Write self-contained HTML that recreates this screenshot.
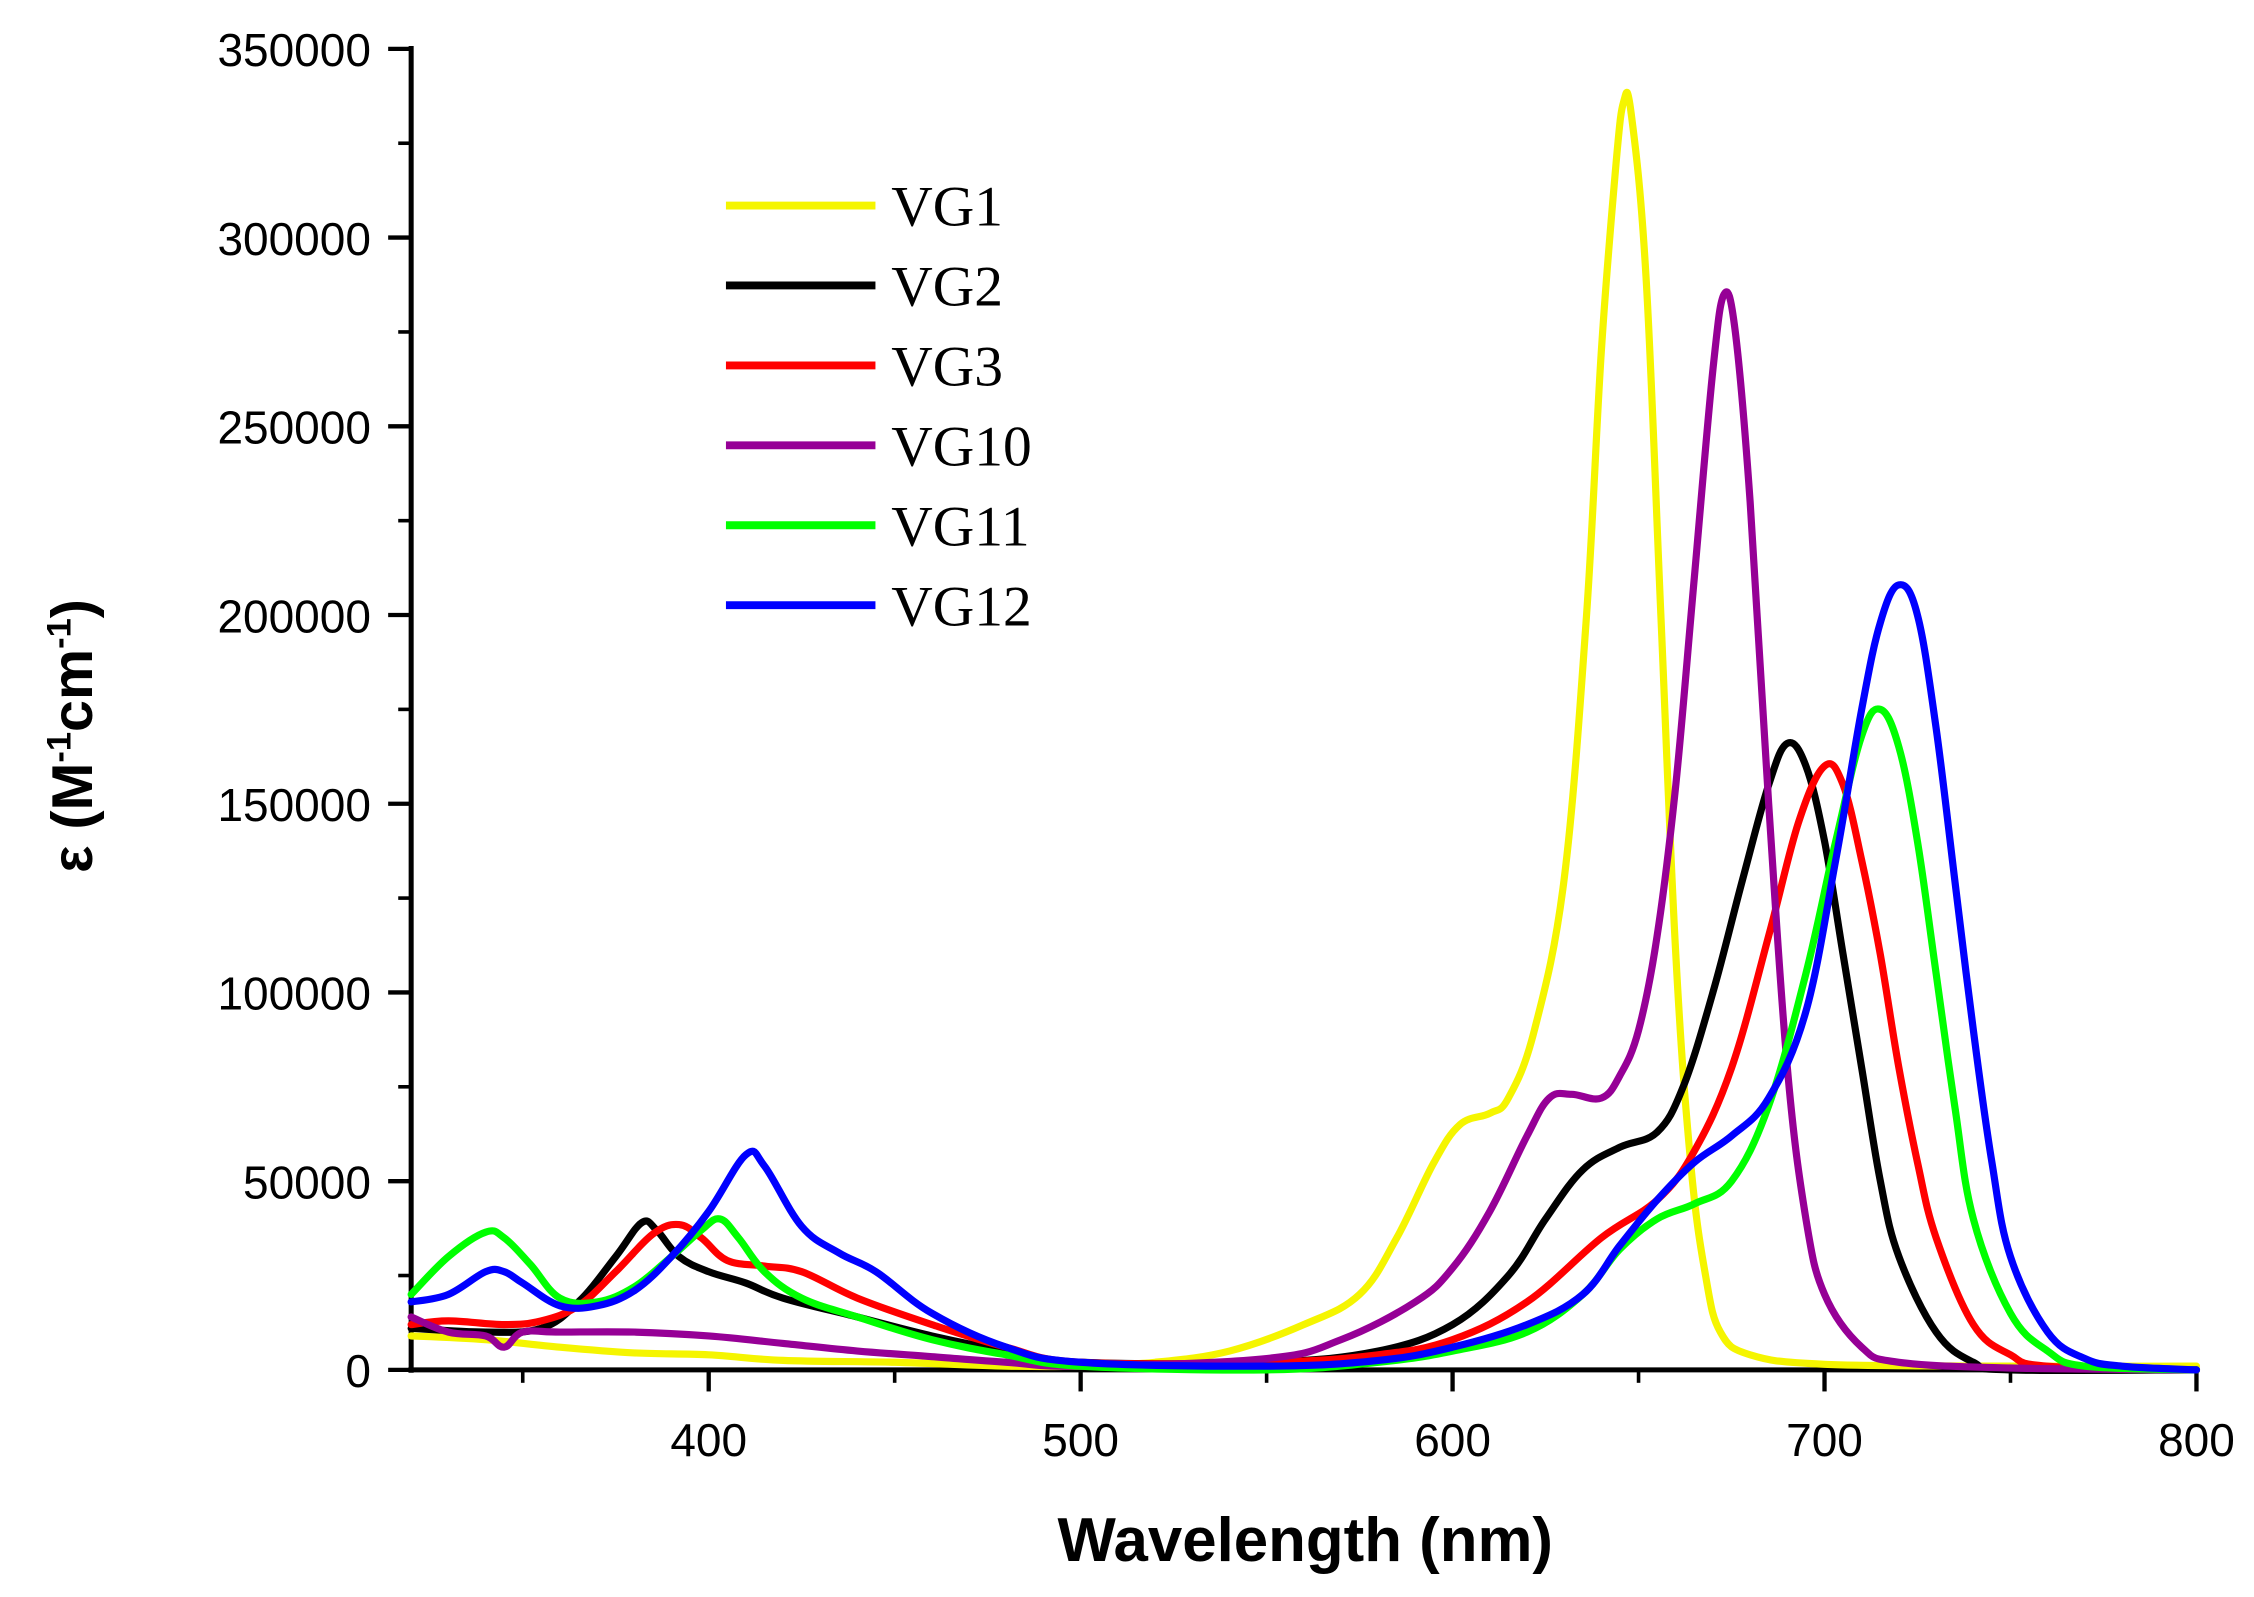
<!DOCTYPE html>
<html><head><meta charset="utf-8"><style>html,body{margin:0;padding:0;background:#fff}svg{display:block}</style></head>
<body>
<svg id="chart" width="2254" height="1597" viewBox="0 0 1568 1111" xmlns="http://www.w3.org/2000/svg">
<g id="axes"></g>
<g id="series"></g>
<g id="legend"></g>
<text x="908" y="1086" text-anchor="middle" font-family="Liberation Sans, sans-serif" font-weight="bold" font-size="43">Wavelength (nm)</text>
<text transform="translate(64,512) rotate(-90)" text-anchor="middle" font-family="Liberation Sans, sans-serif" font-weight="bold" font-size="40">ε (M<tspan font-size="24" dy="-15">-1</tspan><tspan dy="15">cm</tspan><tspan font-size="24" dy="-15">-1</tspan><tspan dy="15">)</tspan></text>
</svg>
<script>
const xTicks = [400, 500, 600, 700, 800];
const xMinor = [350, 450, 550, 650, 750];
const yTicks = [0, 50000, 100000, 150000, 200000, 250000, 300000, 350000];
const yMinor = [25000, 75000, 125000, 175000, 225000, 275000, 325000];
const names = ["VG1", "VG2", "VG3", "VG10", "VG11", "VG12"];
const colors = ["#f5f500", "#000000", "#ff0000", "#960096", "#00ff00", "#0000ff"];
const vg1W = [320,340,360,380,400,420,450,480,500,520,540,560,575,585,595,602,610,615,622,630,636,640,644,646,648,652,656,660,664,668,672,680,700,750,800];
const vg1V = [9000,8000,6000,4500,4000,2500,2000,1000,1000,2000,5000,12000,20000,35000,55000,65000,68000,72000,90000,130000,200000,270000,320000,336000,333000,290000,200000,110000,55000,25000,10000,4000,1500,1000,1000];
const vg2W = [320,340,355,365,375,382,386,392,400,410,420,440,460,480,500,550,580,600,615,625,635,645,655,662,670,678,685,690,695,700,705,710,715,720,730,740,750,800];
const vg2V = [11000,10000,11000,18000,30000,39000,37000,30000,26000,23000,19000,14000,9000,5000,2000,2000,5000,12000,25000,40000,53000,59000,63000,75000,100000,130000,155000,166000,160000,140000,110000,80000,50000,30000,10000,2000,0,0];
const vg3W = [320,330,345,355,365,375,385,392,398,405,415,425,440,460,480,500,550,580,600,620,640,655,665,675,685,693,700,705,710,715,720,725,730,740,750,760,800];
const vg3V = [12000,13000,12000,13000,17000,26000,36000,38500,35000,29000,27500,26000,19000,12000,6000,2000,2000,4000,8000,18000,35000,45000,58000,80000,115000,145000,160000,155000,135000,110000,80000,55000,35000,12000,4000,1000,0];
const vg10W = [320,330,340,345,350,360,380,400,420,440,460,480,500,550,570,590,600,610,620,626,632,640,645,650,655,660,665,670,673,676,680,685,690,695,700,710,720,750,800];
const vg10V = [14000,10000,9000,6000,10000,10000,10000,9000,7000,5000,3500,2000,1000,3000,8000,18000,27000,42000,62000,72000,73000,72000,78000,90000,115000,155000,210000,265000,285000,275000,230000,150000,80000,40000,20000,6000,2000,500,0];
const vg11W = [320,330,340,345,352,360,370,380,390,398,403,408,415,425,440,460,480,500,550,580,600,620,635,645,655,665,675,685,695,703,710,715,720,725,730,735,740,750,760,770,800];
const vg11V = [20000,30000,36500,35000,28000,19000,18000,22000,30000,37000,40000,35000,26000,19000,14000,8000,4000,1000,0,2000,5000,10000,20000,32000,40000,44000,50000,70000,105000,140000,168000,175000,165000,140000,105000,70000,40000,15000,5000,1000,0];
const vg12W = [320,330,340,345,350,360,370,380,390,400,410,415,425,435,445,460,480,500,550,580,600,620,635,645,655,665,675,685,695,703,710,715,720,725,730,735,740,745,750,760,770,780,800];
const vg12V = [18000,20000,26000,26000,23000,17000,17000,21000,30000,42000,57000,54000,38000,31000,26000,15000,6000,2000,1000,2500,6000,12000,20000,33000,45000,55000,62000,72000,95000,135000,175000,198000,208000,200000,170000,130000,90000,55000,30000,10000,3000,1000,0];
const seriesW = [vg1W, vg2W, vg3W, vg10W, vg11W, vg12W];
const seriesV = [vg1V, vg2V, vg3V, vg10V, vg11V, vg12V];

const NS = "http://www.w3.org/2000/svg";
const X0 = 286, Y0 = 953;
function sx(w){ return 493 + (w - 400) * (1528 - 493) / 400; }
function sy(v){ return Y0 - v * (953 - 34) / 350000; }
function mk(tag, attrs, parent){ const e = document.createElementNS(NS, tag); for (const k in attrs) e.setAttribute(k, attrs[k]); parent.appendChild(e); return e; }
function smooth(pts){
  let d = "M" + pts[0][0].toFixed(1) + "," + pts[0][1].toFixed(1);
  for (let i = 0; i < pts.length - 1; i++) {
    const p0 = pts[Math.max(0, i-1)], p1 = pts[i], p2 = pts[i+1], p3 = pts[Math.min(pts.length-1, i+2)];
    const t = 0.18;
    const c1x = p1[0] + (p2[0]-p0[0])*t, c1y = p1[1] + (p2[1]-p0[1])*t;
    const c2x = p2[0] - (p3[0]-p1[0])*t, c2y = p2[1] - (p3[1]-p1[1])*t;
    d += " C" + c1x.toFixed(1) + "," + c1y.toFixed(1) + " " + c2x.toFixed(1) + "," + c2y.toFixed(1) + " " + p2[0].toFixed(1) + "," + p2[1].toFixed(1);
  }
  return d;
}
const axes = document.getElementById("axes");
const font = "Liberation Sans, sans-serif";

const sg = document.getElementById("series");
seriesW.forEach((ws, i) => {
  const vs = seriesV[i];
  const pts = ws.map((w, j) => [sx(w), sy(vs[j])]);
  const p = mk("path", {d:smooth(pts), fill:"none", stroke:colors[i], "stroke-width":5, "stroke-linejoin":"round", "stroke-linecap":"round"}, sg);
  
  
});

let el = mk("line", {x1:X0, y1:sy(350000)-2, x2:X0, y2:Y0+2, stroke:"#000", "stroke-width":3.5}, axes);


el = mk("line", {x1:X0-2, y1:Y0, x2:sx(800)+1, y2:Y0, stroke:"#000", "stroke-width":3.5}, axes);



xTicks.forEach(t => {
  const tk = mk("line", {x1:sx(t), y1:Y0, x2:sx(t), y2:Y0+15, stroke:"#000", "stroke-width":3}, axes);
  
  
  const lb = mk("text", {x:sx(t), y:Y0+60, "text-anchor":"middle", "font-family":font, "font-size":32}, axes);
  lb.textContent = t;
  
  
});
xMinor.forEach(t => {
  const tk = mk("line", {x1:sx(t), y1:Y0, x2:sx(t), y2:Y0+9, stroke:"#000", "stroke-width":2.5}, axes);
  
  
});
yTicks.forEach(t => {
  const tk = mk("line", {x1:X0-16, y1:sy(t), x2:X0, y2:sy(t), stroke:"#000", "stroke-width":3}, axes);
  
  
  const lb = mk("text", {x:X0-28, y:sy(t)+12, "text-anchor":"end", "font-family":font, "font-size":32}, axes);
  lb.textContent = t;
  
  
});
yMinor.forEach(t => {
  const tk = mk("line", {x1:X0-9, y1:sy(t), x2:X0, y2:sy(t), stroke:"#000", "stroke-width":2.5}, axes);
  
  
});

const lg = document.getElementById("legend");
names.forEach((n, i) => {
  const y = 143 + i * 55.6;
  const ln = mk("line", {x1:505, y1:y, x2:609, y2:y, stroke:colors[i], "stroke-width":5.5}, lg);
  
  
  const tx = mk("text", {x:620, y:y+14, "font-family":"Liberation Serif, serif", "font-size":40}, lg);
  tx.textContent = n;
  
  
});
</script>
</body></html>
